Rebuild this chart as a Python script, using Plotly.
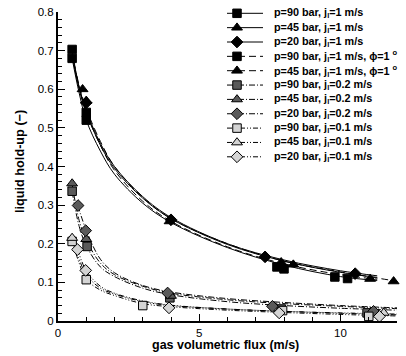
import plotly.graph_objects as go

# ---------------- data ----------------
# fitted curves: x grid and liquid hold-up values per series
cx = [0.5, 0.75, 1, 1.5, 2, 3, 4, 6, 8, 10, 11.3]
cx12 = [0.5, 0.75, 1, 1.5, 2, 3, 4, 6, 8, 10, 12]
cx_d = [0.7, 1, 1.5, 2, 3, 4, 6, 8, 10, 12]

c_90_1 = [0.68, 0.59, 0.52, 0.44, 0.38, 0.305, 0.255, 0.19, 0.145, 0.115, 0.105]
c_45_1 = [0.69, 0.60, 0.54, 0.455, 0.395, 0.318, 0.265, 0.198, 0.155, 0.126, 0.113]
c_20_1 = [0.69, 0.605, 0.545, 0.46, 0.40, 0.322, 0.268, 0.20, 0.158, 0.13, 0.117]
c_90_1p = [0.70, 0.605, 0.54, 0.455, 0.39, 0.31, 0.258, 0.192, 0.148, 0.12, 0.108]
c_45_1p = [0.69, 0.61, 0.55, 0.465, 0.40, 0.32, 0.265, 0.20, 0.155, 0.127, 0.103]

c_90_02 = [0.335, 0.245, 0.195, 0.14, 0.115, 0.085, 0.068, 0.05, 0.04, 0.033, 0.028]
c_45_02 = [0.355, 0.26, 0.21, 0.15, 0.12, 0.09, 0.072, 0.055, 0.045, 0.038, 0.032]
c_20_02 = [0.30, 0.235, 0.16, 0.125, 0.092, 0.075, 0.058, 0.048, 0.04, 0.034]

c_90_01 = [0.206, 0.15, 0.108, 0.08, 0.066, 0.045, 0.037, 0.028, 0.022, 0.017, 0.013]
c_45_01 = [0.215, 0.16, 0.12, 0.085, 0.07, 0.05, 0.04, 0.031, 0.025, 0.021, 0.018]
c_20_01 = [0.185, 0.13, 0.09, 0.072, 0.052, 0.041, 0.031, 0.025, 0.02, 0.016]

# measured points
m_90_1_x = [0.5, 1.0, 7.75, 9.8]
m_90_1_y = [0.68, 0.52, 0.14, 0.114]
m_45_1_x = [0.87, 3.95, 7.9, 11.05]
m_45_1_y = [0.60, 0.258, 0.152, 0.109]
m_20_1_x = [1.0, 4.0, 7.33, 10.52]
m_20_1_y = [0.565, 0.262, 0.166, 0.1225]
m_90_1p_x = [0.5, 1.0, 8.0, 10.25]
m_90_1p_y = [0.703, 0.54, 0.135, 0.11]
m_45_1p_x = [1.0, 8.33, 11.88]
m_45_1p_y = [0.57, 0.146, 0.1026]

m_90_02_x = [0.5, 1.03, 3.96, 7.9, 10.94]
m_90_02_y = [0.336, 0.193, 0.06, 0.031, 0.021]
m_45_02_x = [0.5, 1.0, 4.0]
m_45_02_y = [0.356, 0.212, 0.065]
m_20_02_x = [0.71, 0.98, 3.88, 7.59, 11.17]
m_20_02_y = [0.299, 0.234, 0.0725, 0.038, 0.025]

m_90_01_x = [0.5, 1.0, 3.0, 7.95, 11.0]
m_90_01_y = [0.206, 0.107, 0.04, 0.027, 0.012]
m_45_01_x = [0.5, 11.53]
m_45_01_y = [0.215, 0.021]
m_20_01_x = [0.69, 0.98, 3.93, 7.83, 11.38]
m_20_01_y = [0.185, 0.131, 0.034, 0.021, 0.012]

x_ticks = [0, 5, 10]
y_ticks = [0, 0.1, 0.2, 0.3, 0.4, 0.5, 0.6, 0.7, 0.8]
y_tick_labels = ["0", "0.1", "0.2", "0.3", "0.4", "0.5", "0.6", "0.7", "0.8"]

legend_labels = [
    "p=90 bar, j<sub>l</sub>=1 m/s",
    "p=45 bar, j<sub>l</sub>=1 m/s",
    "p=20 bar, j<sub>l</sub>=1 m/s",
    "p=90 bar, j<sub>l</sub>=1 m/s, ϕ=1 <sup>o</sup>",
    "p=45 bar, j<sub>l</sub>=1 m/s, ϕ=1 <sup>o</sup>",
    "p=90 bar, j<sub>l</sub>=0.2 m/s",
    "p=45 bar, j<sub>l</sub>=0.2 m/s",
    "p=20 bar, j<sub>l</sub>=0.2 m/s",
    "p=90 bar, j<sub>l</sub>=0.1 m/s",
    "p=45 bar, j<sub>l</sub>=0.1 m/s",
    "p=20 bar, j<sub>l</sub>=0.1 m/s",
]

# ---------------- styles ----------------
BLACK = "#000000"
DARK = "#5a5a5a"
LIGHT = "#d4d4d4"
DASH = "7px,4px"
DASHDOT = "6px,2px,1px,2px"
DASHDOTDOT = "5px,2px,1px,2px,1px,2px"
SYM = {"sq": ("square", 8.5), "tri": ("triangle-up", 9.5), "dia": ("diamond", 9)}

series = [
    (cx, c_90_1, m_90_1_x, m_90_1_y, "sq", BLACK, "solid"),
    (cx, c_45_1, m_45_1_x, m_45_1_y, "tri", BLACK, "solid"),
    (cx, c_20_1, m_20_1_x, m_20_1_y, "dia", BLACK, "solid"),
    (cx, c_90_1p, m_90_1p_x, m_90_1p_y, "sq", BLACK, DASH),
    (cx12, c_45_1p, m_45_1p_x, m_45_1p_y, "tri", BLACK, DASH),
    (cx12, c_90_02, m_90_02_x, m_90_02_y, "sq", DARK, DASHDOT),
    (cx12, c_45_02, m_45_02_x, m_45_02_y, "tri", DARK, DASHDOT),
    (cx_d, c_20_02, m_20_02_x, m_20_02_y, "dia", DARK, DASHDOT),
    (cx12, c_90_01, m_90_01_x, m_90_01_y, "sq", LIGHT, DASHDOTDOT),
    (cx12, c_45_01, m_45_01_x, m_45_01_y, "tri", LIGHT, DASHDOTDOT),
    (cx_d, c_20_01, m_20_01_x, m_20_01_y, "dia", LIGHT, DASHDOTDOT),
]

W, H = 406, 356
ML, MR, MT, MB = 58, 9, 12, 35
PW, PH = W - ML - MR, H - MT - MB
FONT = "Liberation Sans, Arial, Helvetica, sans-serif"


def px2paper(px, py):
    return (px - ML) / PW, (H - MB - py) / PH


fig = go.Figure()

for (lx, ly, mx, my, sym, col, dash) in series:
    fig.add_trace(go.Scatter(
        x=lx, y=ly, mode="lines",
        line=dict(color="black", width=1, dash=dash, shape="spline", smoothing=1.0),
        showlegend=False, hoverinfo="skip"))
for (lx, ly, mx, my, sym, col, dash) in series:
    s, sz = SYM[sym]
    fig.add_trace(go.Scatter(
        x=mx, y=my, mode="markers", cliponaxis=False,
        marker=dict(symbol=s, size=sz, color=col, line=dict(color="black", width=1)),
        showlegend=False))

# ---------------- manual legend (on a pixel-based overlay axis) ----------------
LEG_Y0, LEG_DY = 13.3, 14.35
LEG_LINE_X = [227, 263]
LEG_MARK_X = 237
LEG_TEXT_X = 272
for i, (lx, ly, mx, my, sym, col, dash) in enumerate(series):
    yy = LEG_Y0 + LEG_DY * i
    s, sz = SYM[sym]
    fig.add_trace(go.Scatter(
        x=LEG_LINE_X, y=[yy, yy], xaxis="x2", yaxis="y2", mode="lines",
        line=dict(color="black", width=1, dash=dash), showlegend=False, hoverinfo="skip"))
    fig.add_trace(go.Scatter(
        x=[LEG_MARK_X], y=[yy], xaxis="x2", yaxis="y2", mode="markers", cliponaxis=False,
        marker=dict(symbol=s, size=sz, color=col, line=dict(color="black", width=1)),
        showlegend=False, hoverinfo="skip"))
    ax_, ay_ = px2paper(LEG_TEXT_X, yy)
    fig.add_annotation(
        x=ax_, y=ay_, xref="paper", yref="paper", text="<b>" + legend_labels[i] + "</b>",
        showarrow=False, xanchor="left", yanchor="middle",
        font=dict(family=FONT, size=10.8, color="black"))

# axis titles as annotations
tx, ty = px2paper((ML + W - MR) / 2 - 2, 345.5)
fig.add_annotation(x=tx, y=ty, xref="paper", yref="paper",
                   text="<b>gas volumetric flux (m/s)</b>", showarrow=False,
                   xanchor="center", yanchor="middle",
                   font=dict(family=FONT, size=12.5, color="black"))
tx, ty = px2paper(20, 162)
fig.add_annotation(x=tx, y=ty, xref="paper", yref="paper",
                   text="<b>liquid hold-up (−)</b>", showarrow=False, textangle=-90,
                   xanchor="center", yanchor="middle",
                   font=dict(family=FONT, size=12.7, color="black"))

fig.update_layout(
    width=W, height=H,
    margin=dict(l=ML, r=MR, t=MT, b=MB, pad=0, autoexpand=False),
    paper_bgcolor="white", plot_bgcolor="white",
    font=dict(family=FONT, size=11.5, color="black"),
    showlegend=False,
    hovermode=False,
    xaxis=dict(
        range=[0, 12], showgrid=False, zeroline=False, automargin=False,
        showline=True, linecolor="black", linewidth=2,
        ticks="inside", ticklen=7, tickwidth=1, tickcolor="black",
        tickvals=x_ticks, ticktext=[str(v) for v in x_ticks],
        minor=dict(dtick=1, tick0=0, ticks="inside", ticklen=4, tickwidth=1, tickcolor="black"),
        tickfont=dict(size=11.5),
    ),
    yaxis=dict(
        range=[0, 0.8], showgrid=False, zeroline=False, automargin=False,
        showline=True, linecolor="black", linewidth=2,
        ticks="inside", ticklen=7, tickwidth=1, tickcolor="black",
        tickvals=y_ticks, ticktext=y_tick_labels,
        minor=dict(dtick=0.02, tick0=0, ticks="inside", ticklen=3.5, tickwidth=1, tickcolor="black"),
        tickfont=dict(size=11.5),
    ),
    xaxis2=dict(overlaying="x", range=[ML, W - MR], visible=False, fixedrange=True, automargin=False),
    yaxis2=dict(overlaying="y", range=[H - MB, MT], visible=False, fixedrange=True, automargin=False),
)

fig.write_html("out.html", config={"displayModeBar": False, "staticPlot": True},
               post_script="document.body.style.margin='0';")
